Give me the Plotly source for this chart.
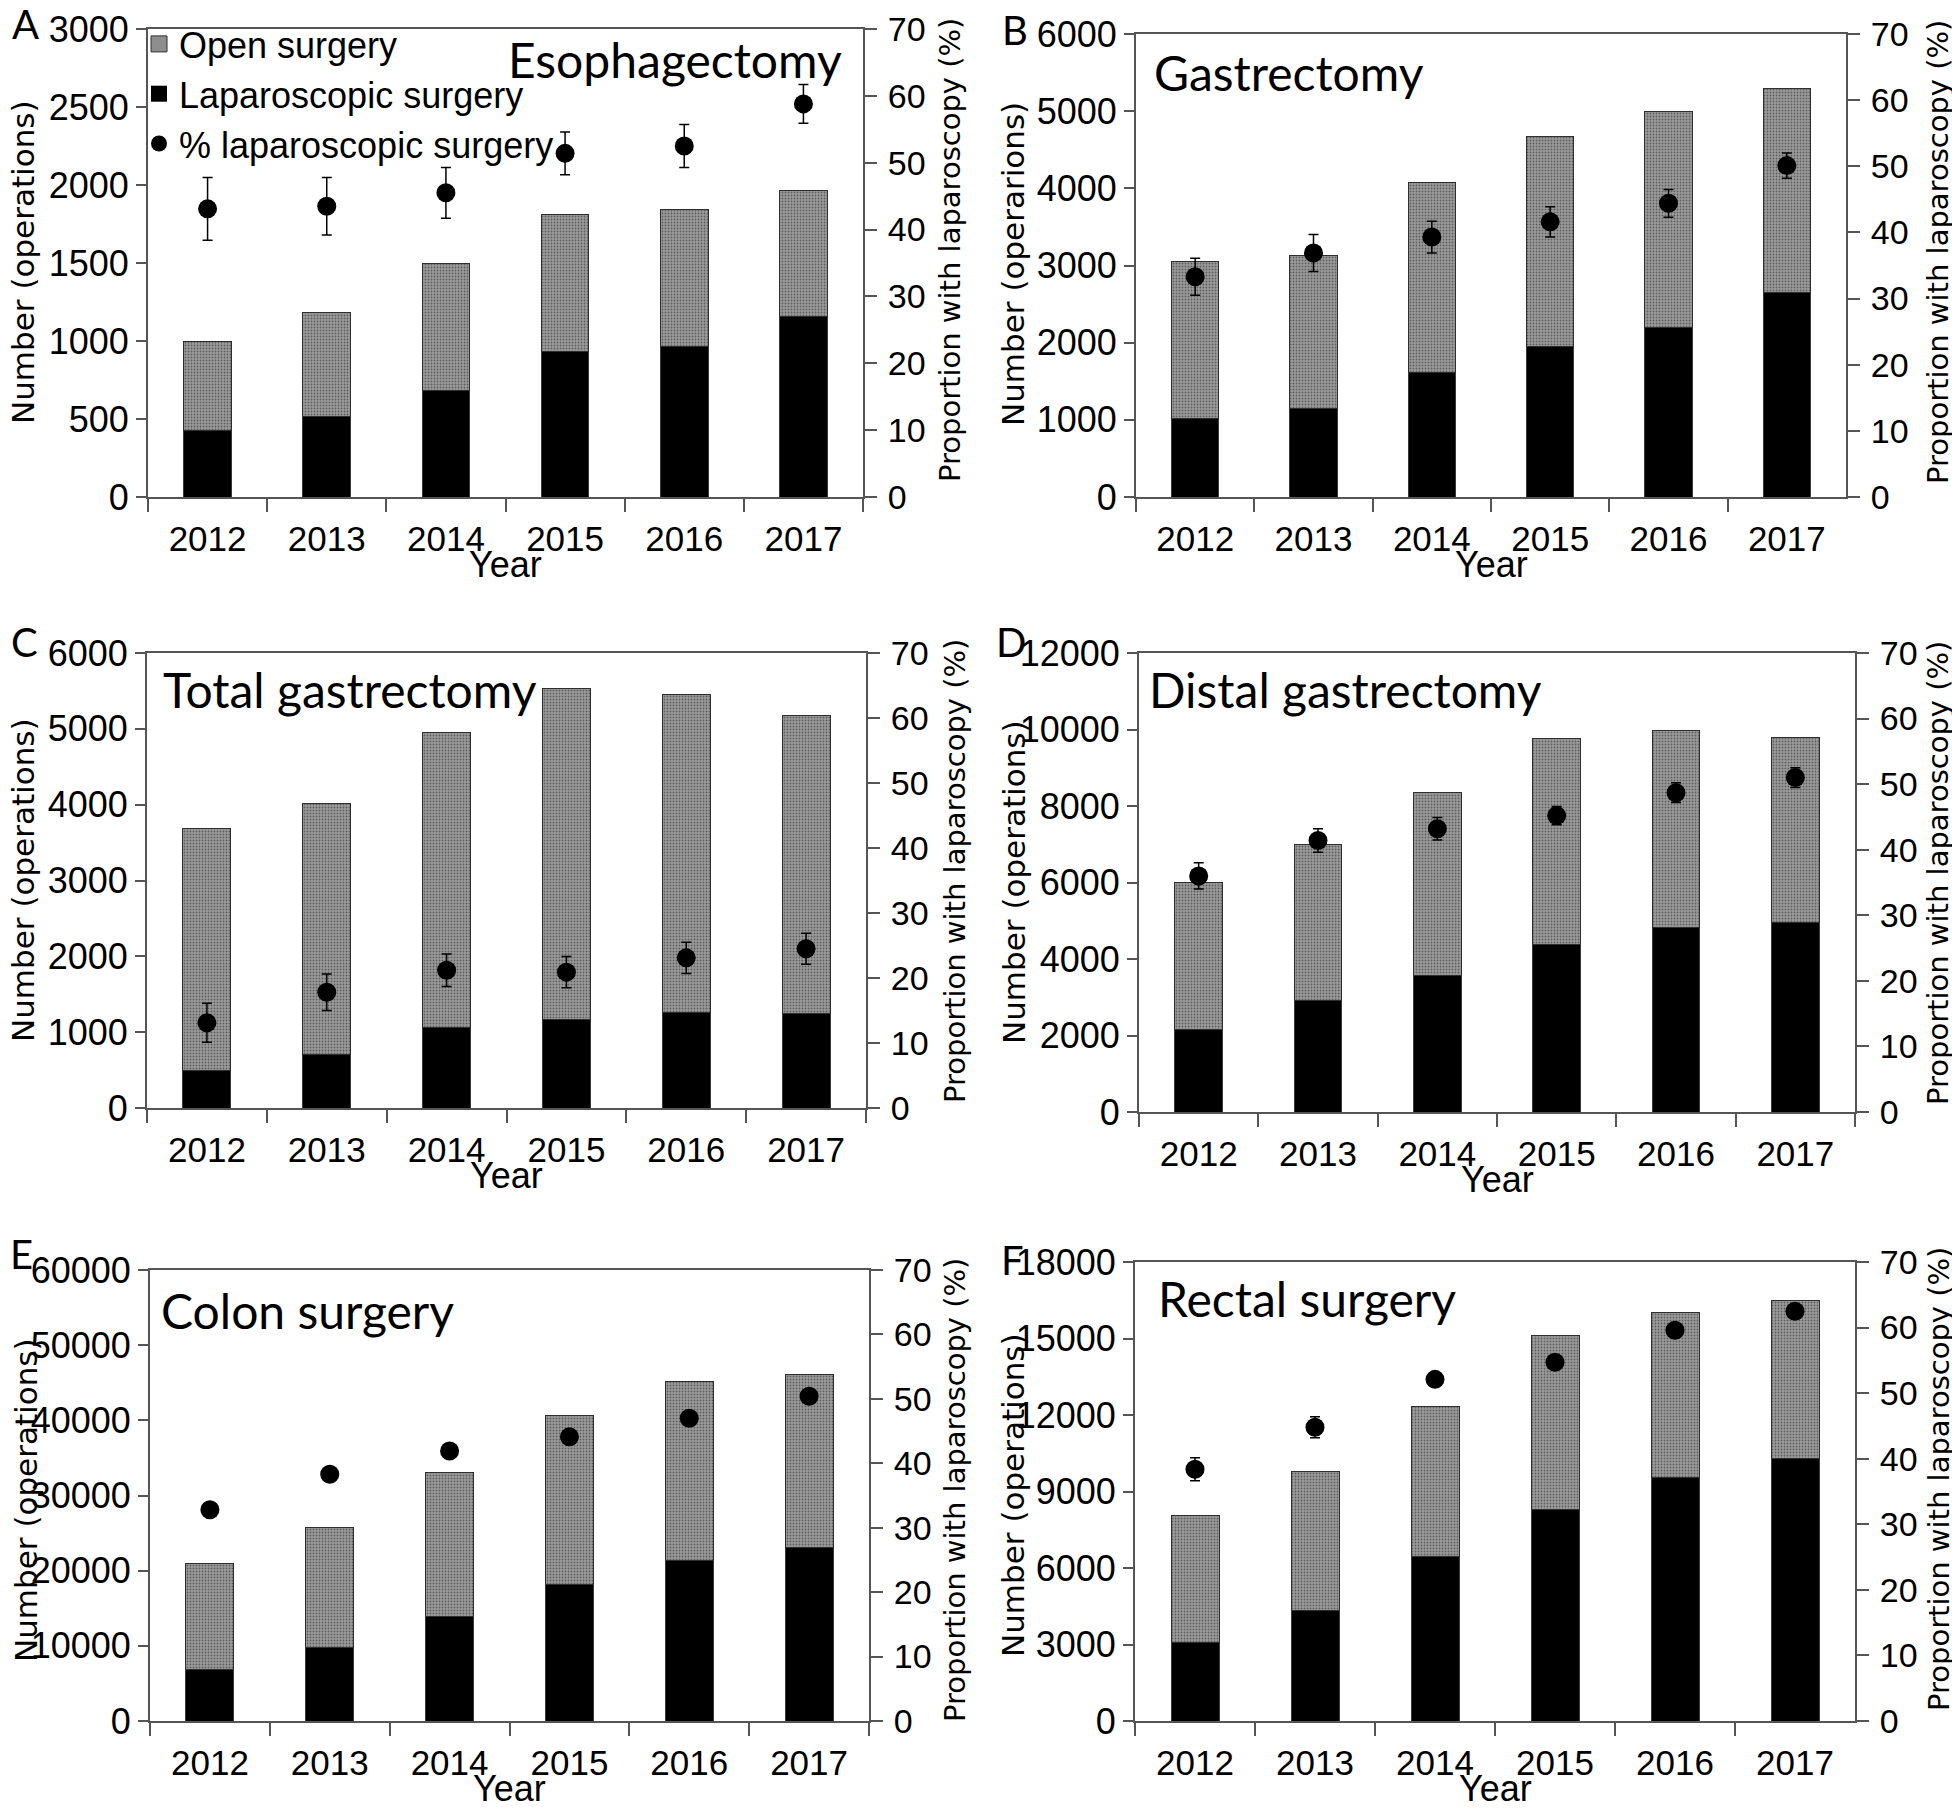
import plotly.graph_objects as go

# page is 1960x1808; the html body adds an 8px margin, so the figure is 8px smaller
OFF = 8
W, H = 1960 - OFF, 1808 - OFF

years = ["2012", "2013", "2014", "2015", "2016", "2017"]

# ---- data ----
esoph_lap = [427, 513, 685, 930, 965, 1156]
esoph_open = [573, 670, 815, 880, 876, 808]
esoph_pct = [43.1, 43.5, 45.5, 51.4, 52.5, 58.8]
esoph_err = [4.7, 4.3, 3.8, 3.2, 3.2, 2.9]

gast_lap = [1017, 1151, 1613, 1945, 2203, 2655]
gast_open = [2035, 1980, 2466, 2730, 2795, 2640]
gast_pct = [33.3, 36.9, 39.3, 41.6, 44.4, 50.1]
gast_err = [2.8, 2.8, 2.4, 2.3, 2.1, 1.9]

total_lap = [498, 712, 1059, 1161, 1254, 1249]
total_open = [3185, 3308, 3892, 4366, 4195, 3922]
total_pct = [13.1, 17.8, 21.2, 20.9, 23.1, 24.5]
total_err = [3.0, 2.8, 2.5, 2.4, 2.4, 2.4]

distal_lap = [2158, 2903, 3581, 4384, 4819, 4965]
distal_open = [3842, 4094, 4761, 5371, 5149, 4829]
distal_pct = [36.0, 41.4, 43.2, 45.2, 48.7, 51.0]
distal_err = [2.0, 1.8, 1.7, 1.4, 1.5, 1.5]

colon_lap = [6847, 9789, 13947, 18106, 21403, 23127]
colon_open = [14049, 15925, 19121, 22570, 23736, 23026]
colon_pct = [32.8, 38.3, 41.9, 44.1, 47.0, 50.4]
colon_err = [0.6, 0.6, 0.6, 0.6, 0.6, 0.6]

rectal_lap = [3071, 4353, 6459, 8302, 9541, 10302]
rectal_open = [5007, 5412, 5882, 6823, 6498, 6196]
rectal_pct = [38.4, 44.8, 52.1, 54.7, 59.6, 62.5]
rectal_err = [1.75, 1.6, 0.8, 0.7, 0.6, 0.6]

panel_letters = ["A", "B", "C", "D", "E", "F"]
panel_titles = ["Esophagectomy", "Gastrectomy", "Total gastrectomy",
                "Distal gastrectomy", "Colon surgery", "Rectal surgery"]
left_titles = ["Number (operations)", "Number (operarions)", "Number (operations)",
               "Number (operations)", "Number (operations)", "Number (operations)"]
right_title = "Proportion with laparoscopy (%)"
x_title = "Year"
legend_names = ["Open surgery", "Laparoscopic surgery", "% laparoscopic surgery"]
y_max = [3000, 6000, 6000, 12000, 60000, 18000]
y_dtick = [500, 1000, 1000, 2000, 10000, 3000]
pct_max = 70
pct_dtick = 10

laps = [esoph_lap, gast_lap, total_lap, distal_lap, colon_lap, rectal_lap]
opens = [esoph_open, gast_open, total_open, distal_open, colon_open, rectal_open]
pcts = [esoph_pct, gast_pct, total_pct, distal_pct, colon_pct, rectal_pct]
errs = [esoph_err, gast_err, total_err, distal_err, colon_err, rectal_err]

# ---- layout geometry (page pixels) ----
boxes = [(148, 863, 29, 497), (1136, 1846, 34, 497),
         (147, 866, 653, 1108), (1139, 1855, 653, 1112),
         (150, 869, 1270, 1721), (1135, 1855, 1262, 1721)]
letter_pos = [(25, 24), (1015, 30), (24, 642), (1011, 642), (21, 1254), (1012, 1260)]
title_pos = [(506, 60), (1152, 72), (161, 690), (1147, 690), (159, 1310), (1156, 1298)]
left_title_pos = [(23, 262), (1013, 264), (23, 880), (1014, 882), (26, 1500), (1013, 1495)]
right_title_pos = [(950, 250), (1938, 252), (955, 871), (1938, 873), (955, 1490), (1939, 1479)]


def px(x):
    return (x - OFF) / W


def py(y):
    return 1 - (y - OFF) / H


fig = go.Figure()
AX = "#555555"
TICKF = "Liberation Sans, Arial, sans-serif"
TITLEF = "Lato, sans-serif"
VERD = "DejaVu Sans, Verdana, sans-serif"
OPEN_BG = "#9c9c9c"
OPEN_FG = "#1e1e1e"

# legend-only entries (larger square symbols like the reference)
fig.add_trace(go.Scatter(x=[None], y=[None], mode="markers", name=legend_names[0],
                         marker=dict(symbol="square", size=18, color="#8e8e8e",
                                     line=dict(color="#2e2e2e", width=1)),
                         legendrank=1, showlegend=True))
fig.add_trace(go.Scatter(x=[None], y=[None], mode="markers", name=legend_names[1],
                         marker=dict(symbol="square", size=18, color="black"),
                         legendrank=2, showlegend=True))

annotations = []
for i in range(6):
    n = i + 1
    xa = "x" if n == 1 else f"x{n}"
    yl_n = 2 * i + 1
    yr_n = 2 * i + 2
    yl = "y" if yl_n == 1 else f"y{yl_n}"
    yr = f"y{yr_n}"

    fig.add_trace(go.Bar(
        x=years, y=laps[i], name=legend_names[1], xaxis=xa, yaxis=yl,
        marker=dict(color="#000000", line=dict(color="#3a3a3a", width=1)),
        showlegend=False))
    fig.add_trace(go.Bar(
        x=years, y=opens[i], name=legend_names[0], xaxis=xa, yaxis=yl,
        marker=dict(color=OPEN_BG, line=dict(color="#2e2e2e", width=1),
                    pattern=dict(shape=".", fgcolor=OPEN_FG, bgcolor=OPEN_BG,
                                 size=3, solidity=0.3)),
        showlegend=False))
    fig.add_trace(go.Scatter(
        x=years, y=pcts[i], name=legend_names[2], xaxis=xa, yaxis=yr,
        mode="markers", marker=dict(color="black", size=19, symbol="circle"),
        error_y=dict(type="data", array=errs[i], color="black", thickness=1.5, width=5),
        showlegend=(i == 0), legendrank=3))

    l, r, t, b = boxes[i]
    xd = [px(l), px(r)]
    yd = [py(b), py(t)]
    fig.layout[("xaxis" if n == 1 else f"xaxis{n}")] = dict(
        domain=xd, anchor=yl, type="category", range=[-0.5, 5.5], automargin=False,
        tickson="boundaries", ticks="outside", ticklen=13, tickwidth=2, tickcolor=AX,
        showline=True, linecolor=AX, linewidth=2, mirror=True,
        showgrid=False, zeroline=False, ticklabelstandoff=10,
        tickfont=dict(family=TICKF, size=35, color="black"))
    fig.layout[("yaxis" if yl_n == 1 else f"yaxis{yl_n}")] = dict(
        domain=yd, anchor=xa, range=[0, y_max[i]], dtick=y_dtick[i], tick0=0,
        tickformat="d", automargin=False,
        ticks="outside", ticklen=10, tickwidth=2, tickcolor=AX,
        showline=True, linecolor=AX, linewidth=2, showgrid=False, zeroline=False,
        tickfont=dict(family=TICKF, size=36, color="black"))
    fig.layout[f"yaxis{yr_n}"] = dict(
        domain=yd, anchor=xa, overlaying=yl, side="right", automargin=False,
        range=[0, pct_max], dtick=pct_dtick, tick0=0,
        ticks="outside", ticklen=12, tickwidth=2, tickcolor=AX,
        showline=True, linecolor=AX, linewidth=2, showgrid=False, zeroline=False,
        ticklabelstandoff=4,
        tickfont=dict(family=TICKF, size=34, color="black"))

    lx, ly = letter_pos[i]
    annotations.append(dict(text=panel_letters[i], x=px(lx), y=py(ly), xref="paper", yref="paper",
                            xanchor="center", yanchor="middle", showarrow=False,
                            font=dict(family=TITLEF, size=40, color="black")))
    tx, ty = title_pos[i]
    annotations.append(dict(text=panel_titles[i], x=px(tx), y=py(ty), xref="paper", yref="paper",
                            xanchor="left", yanchor="middle", showarrow=False,
                            font=dict(family=TITLEF, size=48, color="black")))
    ax_, ay_ = left_title_pos[i]
    annotations.append(dict(text=left_titles[i], x=px(ax_), y=py(ay_), xref="paper", yref="paper",
                            xanchor="center", yanchor="middle", showarrow=False, textangle=-90,
                            font=dict(family=VERD, size=31, color="black")))
    rx, ry = right_title_pos[i]
    annotations.append(dict(text=right_title, x=px(rx), y=py(ry), xref="paper", yref="paper",
                            xanchor="center", yanchor="middle", showarrow=False, textangle=-90,
                            font=dict(family=VERD, size=29, color="black")))
    annotations.append(dict(text=x_title, x=px((l + r) / 2), y=py(b + 67), xref="paper", yref="paper",
                            xanchor="center", yanchor="middle", showarrow=False,
                            font=dict(family=TICKF, size=36, color="black")))

fig.update_layout(
    width=W, height=H, margin=dict(l=0, r=0, t=0, b=0, autoexpand=False),
    paper_bgcolor="white", plot_bgcolor="rgba(0,0,0,0)",
    barmode="stack", bargap=0.6,
    showlegend=True,
    legend=dict(x=px(139), y=py(14), xanchor="left", yanchor="top",
                bgcolor="rgba(0,0,0,0)", borderwidth=0, traceorder="normal",
                font=dict(family=TICKF, size=36, color="black"),
                tracegroupgap=0, itemsizing="trace"),
    annotations=annotations,
)

fig.write_html("out.html")
